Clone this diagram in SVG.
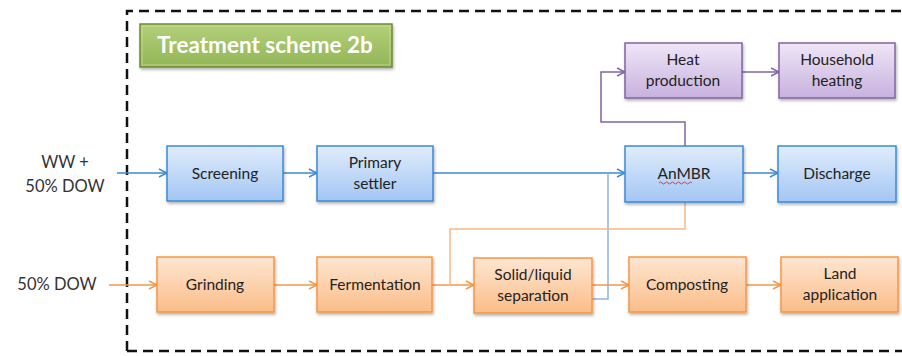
<svg xmlns="http://www.w3.org/2000/svg" width="902" height="356" viewBox="0 0 902 356">
<defs>
<linearGradient id="gBlue" x1="0" y1="0" x2="0" y2="1"><stop offset="0" stop-color="#e0ecfc"/><stop offset="1" stop-color="#a3c6f4"/></linearGradient>
<linearGradient id="gOrange" x1="0" y1="0" x2="0" y2="1"><stop offset="0" stop-color="#fee6d2"/><stop offset="1" stop-color="#fbbd88"/></linearGradient>
<linearGradient id="gPurple" x1="0" y1="0" x2="0" y2="1"><stop offset="0" stop-color="#efe6f7"/><stop offset="1" stop-color="#c8b1df"/></linearGradient>
<linearGradient id="gGreen" x1="0" y1="0" x2="0" y2="1"><stop offset="0" stop-color="#b3d07a"/><stop offset="1" stop-color="#93b556"/></linearGradient>
<filter id="sh" x="-10%" y="-10%" width="125%" height="135%"><feDropShadow dx="1" dy="2" stdDeviation="1.5" flood-color="#000" flood-opacity="0.3"/></filter>
<marker id="aB" viewBox="0 0 10 10" refX="9" refY="5" markerWidth="10" markerHeight="10" markerUnits="userSpaceOnUse" orient="auto"><path d="M1,1 L9,5 L1,9" fill="none" stroke="#3b8ad9" stroke-width="1.5"/></marker>
<marker id="aO" viewBox="0 0 10 10" refX="9" refY="5" markerWidth="10" markerHeight="10" markerUnits="userSpaceOnUse" orient="auto"><path d="M1,1 L9,5 L1,9" fill="none" stroke="#f79646" stroke-width="1.5"/></marker>
<marker id="aP" viewBox="0 0 10 10" refX="9" refY="5" markerWidth="10" markerHeight="10" markerUnits="userSpaceOnUse" orient="auto"><path d="M1,1 L9,5 L1,9" fill="none" stroke="#8064a2" stroke-width="1.5"/></marker>
</defs>
<style>
text{font-family:Lato,"Open Sans","Liberation Sans",sans-serif;font-size:15.5px;fill:#222;text-anchor:middle}
.b{fill:url(#gBlue);stroke:#3b8ad9;stroke-width:1.5;filter:url(#sh)}
.o{fill:url(#gOrange);stroke:#f79646;stroke-width:1.5;filter:url(#sh)}
.p{fill:url(#gPurple);stroke:#8064a2;stroke-width:1.5;filter:url(#sh)}
.lb{fill:none;stroke:#3b8ad9;stroke-width:1.5}
.lb2{fill:none;stroke:#8fb4e3;stroke-width:1.5}
.lo{fill:none;stroke:#f79646;stroke-width:1.5}
.lo2{fill:none;stroke:#f8b888;stroke-width:1.5}
.lp{fill:none;stroke:#8064a2;stroke-width:1.5}
.lbl{font-size:16.5px;fill:#333}
</style>
<rect x="0" y="0" width="902" height="356" fill="#fff"/>
<path d="M127,351 L127,11 L905,11 M127,351 L905,351" fill="none" stroke="#111" stroke-width="2.5" stroke-dasharray="10,6"/>

<g id="title">
<rect x="140" y="24" width="252" height="43" fill="url(#gGreen)" stroke="#6e8c34" stroke-width="1.5" filter="url(#sh)"/>
<rect x="142" y="26" width="248" height="39" fill="none" stroke="#c8e29a" stroke-width="1" opacity="0.7"/>
<text x="265" y="53" style="font-size:22.5px;font-weight:bold;fill:#fff">Treatment scheme 2b</text>
</g>

<g id="connectors">
<path class="lb" d="M117,173 L167,173" marker-end="url(#aB)"/>
<path class="lb" d="M283,173 L317,173" marker-end="url(#aB)"/>
<path class="lb" d="M433,173 L625,173" marker-end="url(#aB)"/>
<path class="lb" d="M743,173 L778,173" marker-end="url(#aB)"/>
<path class="lb2" d="M592,299 L608,299 L608,173"/>
<path class="lp" d="M685,146 L685,122 L601,122 L601,72 L625,72" marker-end="url(#aP)"/>
<path class="lp" d="M742,72 L779,72" marker-end="url(#aP)"/>
<path class="lo" d="M109,285 L157,285" marker-end="url(#aO)"/>
<path class="lo" d="M274,285 L317,285" marker-end="url(#aO)"/>
<path class="lo" d="M432,285 L474,285" marker-end="url(#aO)"/>
<path class="lo2" d="M685,202 L685,229 L450,229 L450,285"/>
<path class="lo" d="M592,285 L629,285" marker-end="url(#aO)"/>
<path class="lo" d="M746,285 L781,285" marker-end="url(#aO)"/>
</g>

<g id="in-ww"><text class="lbl" x="65" y="168">WW +</text><text class="lbl" x="65" y="192">50% DOW</text></g>
<g id="in-dow"><text class="lbl" x="57" y="290">50% DOW</text></g>

<g id="screening"><rect class="b" x="167" y="146" width="116" height="55"/><text x="225" y="179">Screening</text></g>
<g id="primary-settler"><rect class="b" x="317" y="146" width="116" height="55"/><text x="375" y="168">Primary</text><text x="375" y="189">settler</text></g>
<g id="anmbr"><rect class="b" x="625" y="146" width="118" height="56"/><text x="684" y="179">AnMBR</text>
<path d="M659,183 q1.5,-2 3,0 t3,0 t3,0 t3,0 t3,0 t3,0 t3,0 t3,0 t3,0 t3,0 t3,0" fill="none" stroke="#e33" stroke-width="1"/></g>
<g id="discharge"><rect class="b" x="778" y="146" width="118" height="56"/><text x="837" y="179">Discharge</text></g>
<g id="heat-production"><rect class="p" x="625" y="43" width="117" height="55"/><text x="683" y="65">Heat</text><text x="683" y="86">production</text></g>
<g id="household-heating"><rect class="p" x="779" y="43" width="116" height="55"/><text x="837" y="65">Household</text><text x="837" y="86">heating</text></g>
<g id="grinding"><rect class="o" x="157" y="257" width="117" height="55"/><text x="215" y="290">Grinding</text></g>
<g id="fermentation"><rect class="o" x="317" y="257" width="115" height="55"/><text x="375" y="290">Fermentation</text></g>
<g id="solid-liquid"><rect class="o" x="474" y="258" width="118" height="55"/><text x="533" y="280">Solid/liquid</text><text x="533" y="301">separation</text></g>
<g id="composting"><rect class="o" x="629" y="257" width="117" height="55"/><text x="687" y="290">Composting</text></g>
<g id="land-application"><rect class="o" x="781" y="257" width="117" height="55"/><text x="840" y="279">Land</text><text x="840" y="300">application</text></g>
</svg>
